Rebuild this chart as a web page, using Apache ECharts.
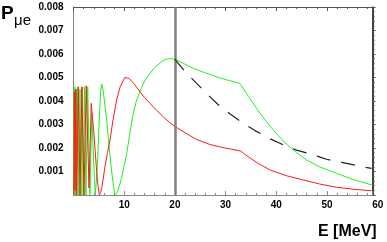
<!DOCTYPE html>
<html><head><meta charset="utf-8">
<script src="https://cdn.jsdelivr.net/npm/echarts@6/dist/echarts.min.js"></script>
<style>html,body{margin:0;padding:0;background:#fff}#c{width:387px;height:242px}</style>
</head><body><div id="c"></div>
<script>
// values in units of 1e-3
var redE = [0.05,0.18,0.30,0.45,0.63,0.95,1.28,1.65,2.07,2.5,3.06,3.5,4.0,4.5,4.8,5.1,5.35,5.6,6.2,6.7,7.2,7.8,8.5,9.2,10.16,11,12,13.1,14,15.1,16.4,17.7,19,20,22,24.3,26.9,29,30.9,33,34,35.2,36.4,38.8,42,45.3,48.5,51.9,55.5,58.8];
var redP = [0,4.4,0.2,4.5,0,4.6,0,4.6,0,4.65,0.3,3.9,2.7,1.2,0.45,0,0.1,0.32,1.2,1.8,2.34,3.2,4.04,4.6,5.01,4.95,4.72,4.4,4.15,3.9,3.6,3.33,3.08,2.92,2.65,2.36,2.15,2.04,1.96,1.87,1.7,1.52,1.35,1.06,0.82,0.64,0.47,0.33,0.24,0.18];
var greenE = [0.02,0.12,0.22,0.30,0.40,0.48,0.56,0.65,0.85,1.05,1.28,1.5,1.7,1.9,2.15,2.45,2.8,3.25,3.6,4.0,4.3,4.7,5.1,5.35,5.56,5.8,6.1,6.55,7.0,7.5,7.9,8.2,8.6,9.0,9.5,10.0,10.5,11.1,11.8,12.4,13.1,14,15.1,16,17.1,18,18.7,19.4,20,21.5,23.6,26,28.2,30.5,32.8,34.5,36,37.5,39,40.5,42,44,46,48.5,51.9,55,58.8];
var greenP = [0,4.5,0,4.6,0.3,0,4.5,0,4.6,0,4.5,0,4.6,0,4.6,0,4.6,0,3.5,1.3,0,1.2,3.3,4.4,4.72,4.5,4.0,3.19,2.1,1.06,0.35,0,0.1,0.35,0.75,1.25,1.77,2.6,3.48,4.0,4.4,4.85,5.18,5.42,5.62,5.76,5.8,5.8,5.77,5.62,5.39,5.2,5.03,4.88,4.75,4.2,3.72,3.27,2.87,2.5,2.17,1.8,1.49,1.2,0.92,0.67,0.43];
var dashE = [20,22.2,24.3,26.2,28.6,30.9,33.5,35.8,38.8,40.7,42,44,47,49.9,52.9,55.9,58.8];
var dashP = [5.77,5.2,4.75,4.33,3.83,3.45,3.05,2.74,2.39,2.2,2.07,1.91,1.73,1.52,1.39,1.25,1.13];
var xTicks = [10,20,30,40,50,60];
var yTicks = [0.001,0.002,0.003,0.004,0.005,0.006,0.007,0.008];

function pairs(xs, ys){ return xs.map(function(x,i){ return [x, ys[i]/1000]; }); }

var chart = echarts.init(document.getElementById('c'), null, {renderer:'canvas'});
var lab = {fontFamily:'Liberation Sans, Arial, sans-serif', fontWeight:'bold', fontSize:10, color:'#000'};
var scale = 5.07;
chart.setOption({
  animation:false,
  grid:[
    {left:73.5, top:7, width:60*scale, height:188},
    {left:73.5, top:7, width:59*scale, height:188}
  ],
  xAxis:[
    {gridIndex:0, type:'value', min:0, max:60, interval:10, position:'bottom',
     axisLine:{show:false}, axisTick:{show:false}, splitLine:{show:false},
     axisLabel:Object.assign({margin:5, formatter:function(v){return xTicks.indexOf(v)>=0?String(v):'';}}, lab)},
    {gridIndex:1, type:'value', min:0, max:59, interval:10, position:'bottom',
     axisLine:{show:true, onZero:false, lineStyle:{color:'#888', width:1}},
     axisTick:{show:true, inside:true, length:4, lineStyle:{color:'#888'}},
     minorTick:{show:true, splitNumber:5, length:2, lineStyle:{color:'#888'}},
     axisLabel:{show:false}, splitLine:{show:false}},
    {gridIndex:1, type:'value', min:0, max:59, interval:10, position:'top',
     axisLine:{show:true, onZero:false, lineStyle:{color:'#555', width:1}},
     axisTick:{show:true, inside:true, length:4, lineStyle:{color:'#555'}},
     minorTick:{show:true, splitNumber:5, length:2, lineStyle:{color:'#555'}},
     axisLabel:{show:false}, splitLine:{show:false}}
  ],
  yAxis:[
    {gridIndex:0, type:'value', min:0, max:0.008, interval:0.001, position:'left',
     axisLine:{show:true, onZero:false, lineStyle:{color:'#888', width:1}},
     axisTick:{show:false}, splitLine:{show:false},
     axisLabel:Object.assign({margin:10, formatter:function(v){
        for (var i=0;i<yTicks.length;i++){ if (Math.abs(yTicks[i]-v)<1e-9) return yTicks[i].toFixed(3);} return '';}}, lab)},
    {gridIndex:1, type:'value', min:0, max:0.008, interval:0.001, position:'right',
     axisLine:{show:true, onZero:false, lineStyle:{color:'#000', width:1.5}},
     axisTick:{show:true, inside:false, length:3, lineStyle:{color:'#555'}},
     minorTick:{show:true, splitNumber:5, length:2, lineStyle:{color:'#555'}},
     axisLabel:{show:false}, splitLine:{show:false}}
  ],
  series:[
    {type:'line', xAxisIndex:1, yAxisIndex:1, data:pairs(redE, redP), smooth:false, symbol:'none',
     lineStyle:{color:'#ff1a1a', width:1}, z:4,
     markLine:{silent:true, symbol:'none', label:{show:false}, lineStyle:{color:'#808080', width:2.5, type:'solid'}, data:[{xAxis:20}]}},
    {type:'line', xAxisIndex:1, yAxisIndex:1, data:pairs(greenE, greenP), smooth:false, symbol:'none',
     lineStyle:{color:'#22ee22', width:1}, z:3},
    {type:'line', xAxisIndex:1, yAxisIndex:1, data:pairs(dashE, dashP), smooth:false, symbol:'none',
     lineStyle:{color:'#222', width:1.2, type:[14,11]}, z:5}
  ],
  graphic:[
    {type:'text', left:1, top:4, style:{text:'P', font:'bold 19px "Liberation Sans", Arial, sans-serif', fill:'#000'}},
    {type:'text', left:14, top:13, style:{text:'μe', font:'15px "Liberation Sans", Arial, sans-serif', fill:'#000'}},
    {type:'text', left:318, top:224, style:{text:'E [MeV]', font:'bold 16px "Liberation Sans", Arial, sans-serif', fill:'#000'}}
  ]
});
</script></body></html>
